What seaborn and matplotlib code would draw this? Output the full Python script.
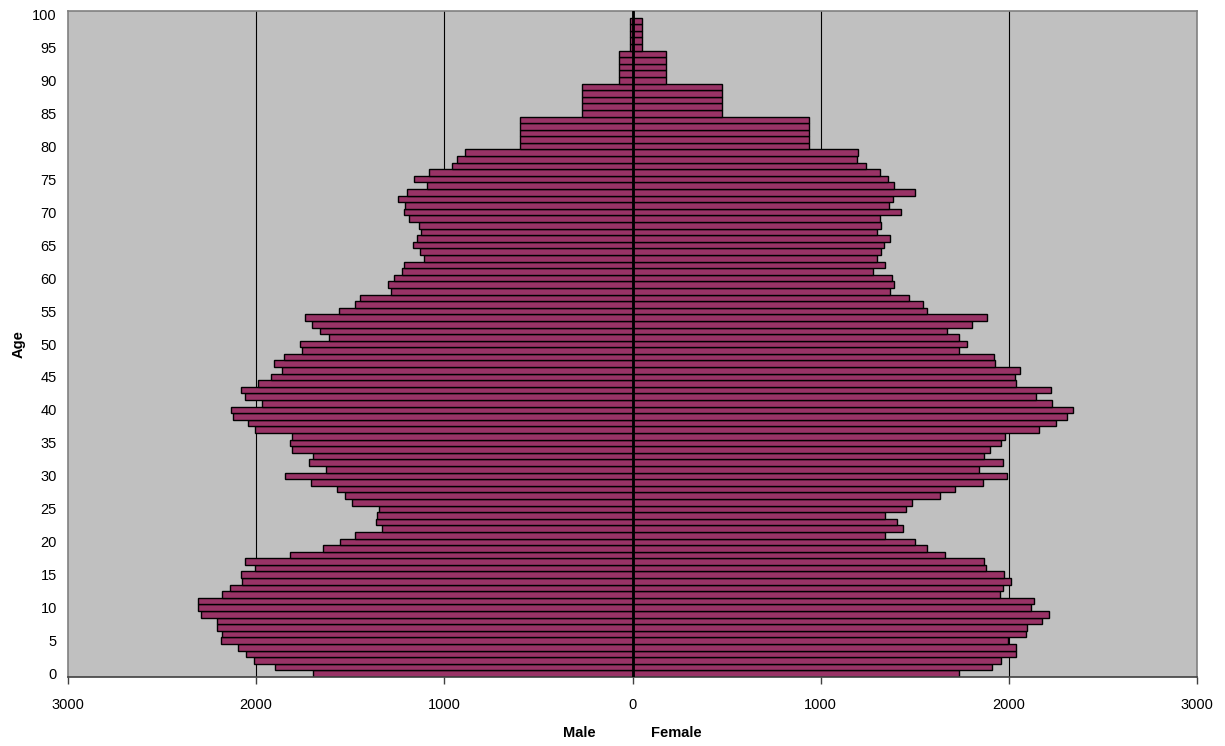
import matplotlib
matplotlib.use("Agg")
import matplotlib.pyplot as plt
import seaborn as sns
import pandas as pd
from matplotlib.ticker import FuncFormatter

ages = list(range(0, 101))
male = [1698, 1898, 2011, 2053, 2095, 2187, 2182, 2208, 2208, 2295,
        2309, 2309, 2182, 2140, 2076, 2081, 2004, 2060, 1818, 1647,
        1557, 1477, 1329, 1364, 1357, 1348, 1491, 1527, 1569, 1710,
        1846, 1627, 1717, 1698, 1811, 1818, 1811, 2004, 2046, 2125,
        2133, 1968, 2060, 2081, 1989, 1919, 1862, 1905, 1853, 1756,
        1769, 1613, 1663, 1705, 1742, 1562, 1477, 1449, 1286, 1300,
        1265, 1223, 1216, 1108, 1129, 1164, 1143, 1122, 1136, 1186,
        1216, 1208, 1244, 1200, 1094, 1159, 1080, 959, 931, 889,
        597, 597, 597, 597, 597, 270, 270, 270, 270, 270,
        71, 71, 71, 71, 71, 15, 15, 15, 15, 15,
        0]
female = [1733, 1912, 1961, 2039, 2039, 1993, 2090, 2097, 2175, 2212,
          2118, 2133, 1954, 1968, 2011, 1975, 1876, 1869, 1663, 1564,
          1500, 1343, 1436, 1406, 1343, 1456, 1484, 1634, 1712, 1862,
          1989, 1839, 1968, 1869, 1898, 1961, 1982, 2159, 2253, 2309,
          2339, 2231, 2147, 2223, 2039, 2032, 2058, 1924, 1919, 1733,
          1777, 1733, 1670, 1806, 1883, 1564, 1542, 1472, 1371, 1392,
          1380, 1279, 1343, 1300, 1322, 1336, 1371, 1300, 1322, 1314,
          1428, 1364, 1385, 1500, 1392, 1359, 1316, 1242, 1194, 1201,
          940, 940, 940, 940, 940, 477, 477, 477, 477, 477,
          178, 178, 178, 178, 178, 48, 48, 48, 48, 48,
          0]
x_ticks = [-3000, -2000, -1000, 0, 1000, 2000, 3000]
y_ticks = list(range(0, 101, 5))

sns.set_theme(style="white")
plt.rcParams['font.family'] = ['Liberation Sans', 'DejaVu Sans']
plt.rcParams['text.color'] = 'black'
plt.rcParams['axes.labelcolor'] = 'black'
plt.rcParams['xtick.color'] = 'black'
plt.rcParams['ytick.color'] = 'black'

df = pd.DataFrame({"age": ages, "male": [-v for v in male], "female": female})

fig = plt.figure(figsize=(12.25, 7.46), dpi=100)
ax = fig.add_axes([68/1225, 1 - 677/746, (1197-68)/1225, (677-11)/746])
ax.set_facecolor("#C0C0C0")

bar_color = "#993366"
sns.barplot(data=df, y="age", x="male", orient="h", order=ages, width=1.0,
            color=bar_color, edgecolor="black", linewidth=1.0, saturation=1, ax=ax)
sns.barplot(data=df, y="age", x="female", orient="h", order=ages, width=1.0,
            color=bar_color, edgecolor="black", linewidth=1.0, saturation=1, ax=ax)

ax.set_xlim(-3000, 3000)
ax.set_ylim(-0.5, 100.5)
for v in [-2000, -1000, 1000, 2000]:
    ax.axvline(v, color="black", linewidth=0.8, zorder=0)
ax.axvline(0, color="black", linewidth=2.0, zorder=5)

ax.set_xticks(x_ticks)
ax.xaxis.set_major_formatter(FuncFormatter(lambda v, p: f"{abs(int(v))}"))
ax.set_yticks(y_ticks)
ax.set_yticklabels([str(t) for t in y_ticks])
ax.tick_params(axis="x", direction="out", length=5, width=1, color="#404040",
               labelcolor="black", labelsize=10.5, pad=10, bottom=True)
ax.tick_params(axis="y", length=0, labelcolor="black", labelsize=10.5, pad=8)

for s in ax.spines.values():
    s.set_color("#808080")
    s.set_linewidth(1.2)
ax.spines["bottom"].set_color("#404040")

ax.set_xlabel("")
ax.set_ylabel("Age", fontsize=10.5, fontweight="bold", labelpad=5, color="black")
fig.text(579/1225, 1 - 733/746, "Male", ha="center", va="center",
         fontsize=10.5, fontweight="bold", color="black")
fig.text(676/1225, 1 - 733/746, "Female", ha="center", va="center",
         fontsize=10.5, fontweight="bold", color="black")

fig.savefig("out.png", dpi=100, facecolor="white")
